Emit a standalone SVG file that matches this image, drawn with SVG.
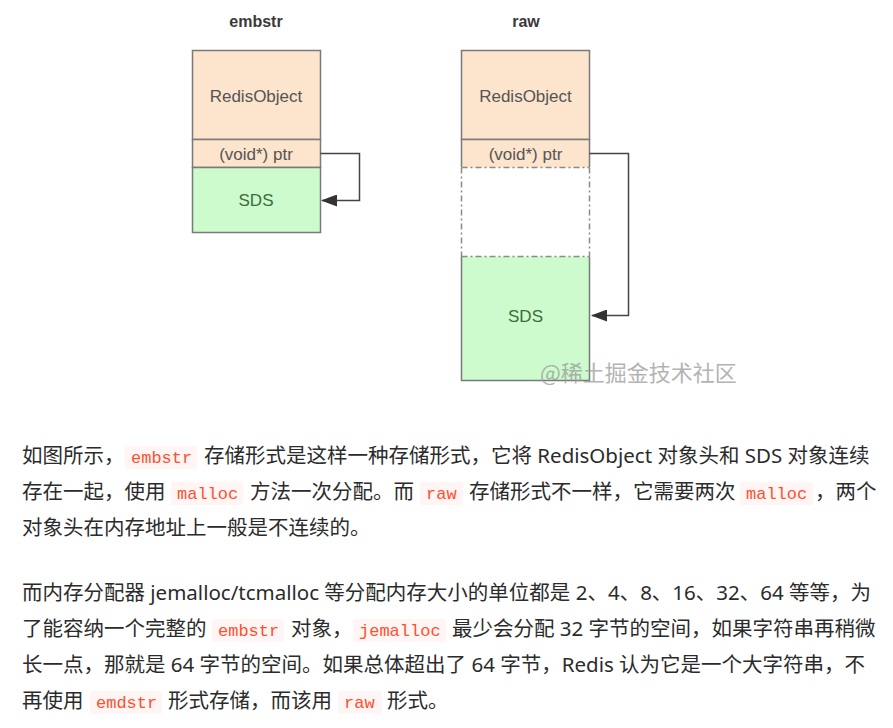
<svg xmlns="http://www.w3.org/2000/svg" width="893" height="728" viewBox="0 0 893 728">
<defs>
<style>
.title{font-family:"Liberation Sans",Arial,sans-serif;font-size:16px;font-weight:bold;fill:#3a3a3a;text-anchor:middle}
.lbl{font-family:"Liberation Sans",Arial,sans-serif;font-size:17px;fill:#555;text-anchor:middle}
.sds{font-family:"Liberation Sans",Arial,sans-serif;font-size:17px;fill:#3d6b3d;text-anchor:middle}
.box{stroke:#7a7a7a;stroke-width:1.5}
.peach{fill:#fce4cd}
.green{fill:#cdfbcd}
.dd{fill:none;stroke:#8a8a8a;stroke-width:1.5;stroke-dasharray:6 3 2 3}
.conn{fill:none;stroke:#444;stroke-width:1.5}
.body{font-family:"Noto Sans","Noto Sans CJK SC",sans-serif;font-size:20.5px;fill:#2b2b2b}
.code{font-family:"Liberation Mono","Noto Sans CJK SC",monospace;font-size:17px;fill:#ff502c}
.cbg{fill:#fff5f5}
.wm{font-family:"Noto Sans CJK SC",sans-serif;font-size:22px;fill:#9a9a9a;opacity:0.75}
</style>
<marker id="ah" markerWidth="16" markerHeight="12" refX="15" refY="6" orient="auto" markerUnits="userSpaceOnUse">
<path d="M0,0 L16,6 L0,12 Z" fill="#333"/>
</marker>
</defs>
<rect width="893" height="728" fill="#fff"/>

<g id="embstr">
<text class="title" x="256" y="27">embstr</text>
<rect class="box peach" x="192.5" y="50.5" width="128" height="89"/>
<text class="lbl" x="256" y="102">RedisObject</text>
<rect class="box peach" x="192.5" y="139.5" width="128" height="28"/>
<text class="lbl" x="256" y="160">(void*) ptr</text>
<rect class="box green" x="192.5" y="167.5" width="128" height="65"/>
<text class="sds" x="256" y="206">SDS</text>
</g>

<g id="raw">
<text class="title" x="526" y="27">raw</text>
<rect class="box peach" x="461.5" y="50.5" width="128" height="89"/>
<text class="lbl" x="525.5" y="102">RedisObject</text>
<rect class="peach" x="461.5" y="139.5" width="128" height="28"/>
<path class="box" d="M461.5,167 V139.5 H589.5 V167" fill="none"/>
<text class="lbl" x="525.5" y="160">(void*) ptr</text>
<rect class="green" x="461.5" y="256.5" width="128" height="124"/>
<path class="box" d="M461.5,256.5 V380.5 H589.5 V256.5" fill="none"/>
<path class="dd" d="M461.5,167.5 H589.5 M461.5,167.5 V256.5 M589.5,167.5 V256.5 M461.5,256.5 H589.5"/>
<text class="sds" x="525.5" y="322">SDS</text>
</g>

<g id="connectors">
<path class="conn" d="M320.5,153.5 H359.5 V200.5 H322" marker-end="url(#ah)"/>
<path class="conn" d="M589.5,153.5 H628.5 V315.5 H592" marker-end="url(#ah)"/>
</g>

<text class="wm" x="540" y="381">@稀土掘金技术社区</text>

<g id="para1">
<rect class="cbg" x="125" y="446" width="72" height="23" rx="3"/>
<rect class="cbg" x="171" y="482" width="72" height="23" rx="3"/>
<rect class="cbg" x="420" y="482" width="43" height="23" rx="3"/>
<rect class="cbg" x="740" y="482" width="73" height="23" rx="3"/>
<text class="body" x="22" y="463">如图所示，</text>
<text class="code" x="131" y="463">embstr</text>
<text class="body" x="204" y="463">存储形式是这样一种存储形式，它将 RedisObject 对象头和 SDS 对象连续</text>
<text class="body" x="22" y="499">存在一起，使用</text>
<text class="code" x="177" y="499">malloc</text>
<text class="body" x="250" y="499">方法一次分配。而</text>
<text class="code" x="426" y="499">raw</text>
<text class="body" x="469" y="499">存储形式不一样，它需要两次</text>
<text class="code" x="746" y="499">malloc</text>
<text class="body" x="815" y="499">，两个</text>
<text class="body" x="22" y="535">对象头在内存地址上一般是不连续的。</text>
</g>

<g id="para2">
<rect class="cbg" x="212" y="619" width="72" height="23" rx="3"/>
<rect class="cbg" x="353" y="619" width="93" height="23" rx="3"/>
<rect class="cbg" x="90" y="691" width="72" height="23" rx="3"/>
<rect class="cbg" x="338" y="691" width="44" height="23" rx="3"/>
<text class="body" x="22" y="600">而内存分配器 jemalloc/tcmalloc 等分配内存大小的单位都是 2、4、8、16、32、64 等等，为</text>
<text class="body" x="22" y="636">了能容纳一个完整的</text>
<text class="code" x="218" y="636">embstr</text>
<text class="body" x="291" y="636">对象，</text>
<text class="code" x="359" y="636">jemalloc</text>
<text class="body" x="452" y="636">最少会分配 32 字节的空间，如果字符串再稍微</text>
<text class="body" x="22" y="672">长一点，那就是 64 字节的空间。如果总体超出了 64 字节，Redis 认为它是一个大字符串，不</text>
<text class="body" x="22" y="708">再使用</text>
<text class="code" x="96" y="708">emdstr</text>
<text class="body" x="168" y="708">形式存储，而该用</text>
<text class="code" x="344" y="708">raw</text>
<text class="body" x="387" y="708">形式。</text>
</g>
</svg>
